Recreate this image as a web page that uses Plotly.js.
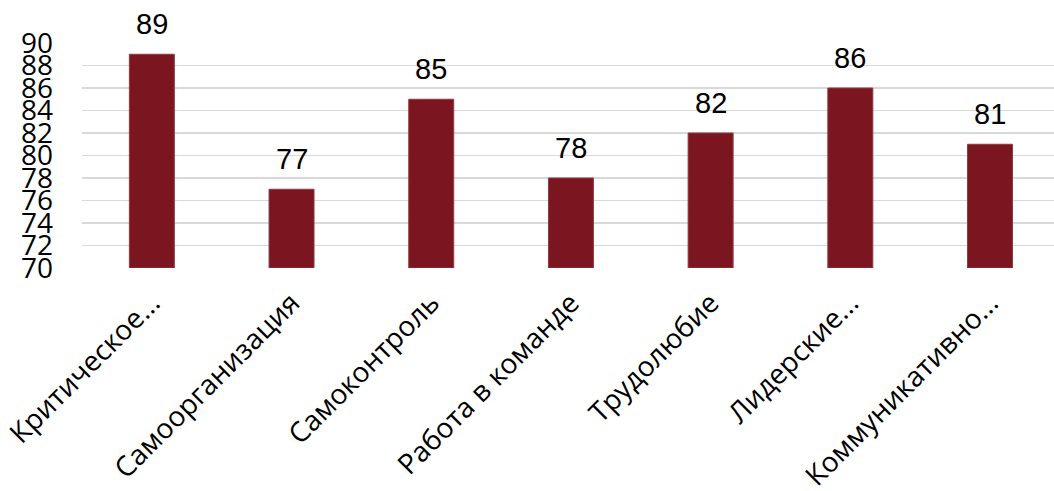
<!DOCTYPE html>
<html>
<head>
<meta charset="utf-8">
<script src="https://cdn.plot.ly/plotly-3.0.1.min.js"></script>
<style>html,body{margin:0;padding:0;background:#fff;}#chart{width:1054px;height:491px;}</style>
</head>
<body>
<div id="chart"></div>
<script>
const categories = ["Критическое...", "Самоорганизация", "Самоконтроль", "Работа в команде", "Трудолюбие", "Лидерские...", "Коммуникативно..."];
const values = [89, 77, 85, 78, 82, 86, 81];
const yTicks = [70, 72, 74, 76, 78, 80, 82, 84, 86, 88, 90];
const axisMin = 70;

const trace = {
  type: 'bar',
  x: categories,
  y: values.map(v => v - axisMin),
  base: axisMin,
  marker: {color: '#7B1620', line: {color: '#8E3A43', width: 1}},
  width: 0.322,
  hoverinfo: 'none'
};

const annotations = categories.map((c, i) => ({
  x: c,
  y: values[i],
  xref: 'x',
  yref: 'y',
  text: String(values[i]),
  showarrow: false,
  yanchor: 'bottom',
  yshift: 12,
  font: {family: 'Liberation Sans, Arial, sans-serif', size: 29, color: '#000'}
}));

const layout = {
  width: 1054,
  height: 491,
  margin: {l: 82, r: 0, t: 43, b: 223},
  paper_bgcolor: '#fff',
  plot_bgcolor: '#fff',
  showlegend: false,
  annotations: annotations,
  xaxis: {
    type: 'category',
    range: [-0.5, 6.458],
    tickangle: -45,
    tickfont: {family: 'Open Sans, sans-serif', size: 28, color: '#000'},
    showgrid: false,
    zeroline: false,
    showline: false,
    ticks: '',
    ticklabelstandoff: 12
  },
  yaxis: {
    range: [70, 90],
    tickvals: yTicks,
    ticktext: yTicks.map(String),
    tickfont: {family: 'Open Sans, sans-serif', size: 28, color: '#000'},
    showgrid: true,
    gridcolor: '#d9d9d9',
    gridwidth: 1.5,
    zeroline: false,
    showline: false,
    ticks: '',
    ticklabelstandoff: 28
  }
};
Plotly.newPlot('chart', [trace], layout, {displayModeBar: false, staticPlot: true});
</script>
</body>
</html>
